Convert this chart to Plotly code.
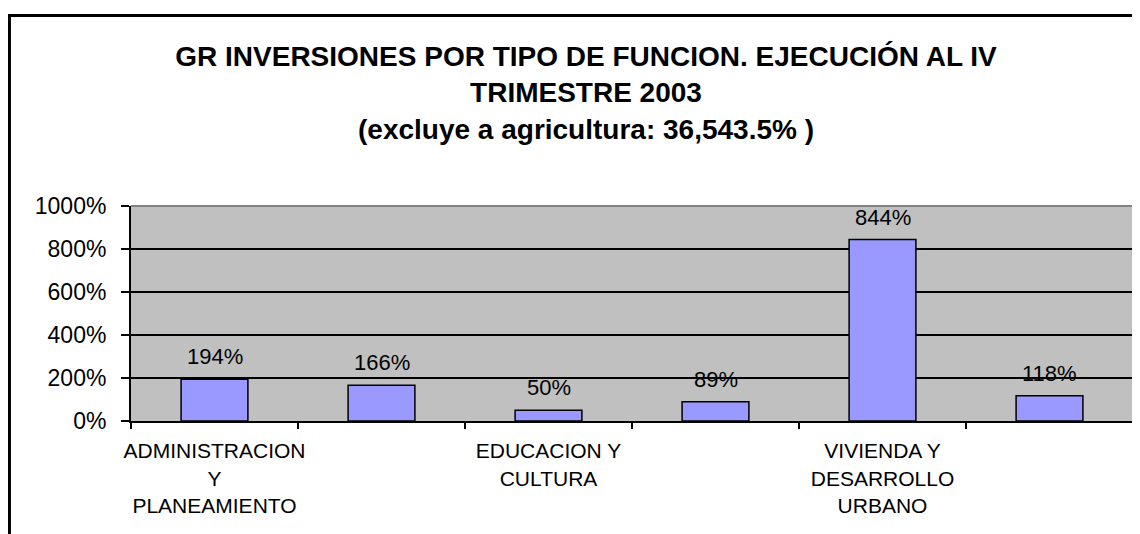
import plotly.graph_objects as go

# data
CATEGORY_IDS = ["c1", "c2", "c3", "c4", "c5", "c6"]
TICK_LABELS = ["ADMINISTRACION<br>Y<br>PLANEAMIENTO", "",
               "EDUCACION Y<br>CULTURA", "",
               "VIVIENDA Y<br>DESARROLLO<br>URBANO", ""]
EXECUTION_PCT = [194, 166, 50, 89, 844, 118]
Y_TICKS = [0, 200, 400, 600, 800, 1000]

TITLE = ("GR INVERSIONES POR TIPO DE FUNCION. EJECUCIÓN AL IV<br>"
         "TRIMESTRE 2003<br>(excluye a agricultura: 36,543.5% )")

FONT = "Liberation Sans, Arial, sans-serif"

# page body has an 8px margin, so the figure is 8px smaller than the window
W, H = 1132, 526

fig = go.Figure()
fig.add_trace(go.Bar(
    x=CATEGORY_IDS,
    y=EXECUTION_PCT,
    width=0.4,
    marker=dict(color="#9999FF", line=dict(color="black", width=1.5)),
    hoverinfo="skip",
))

# value labels above the bars
for cat, val in zip(CATEGORY_IDS, EXECUTION_PCT):
    fig.add_annotation(
        x=cat, y=val, text=f"{val}%", showarrow=False,
        yanchor="bottom", yshift=8,
        font=dict(family=FONT, size=22, color="black"))

# gray top/right border of the plot area
fig.add_shape(type="line", xref="paper", yref="paper", x0=0, x1=1, y0=1, y1=1,
              line=dict(color="#808080", width=2), layer="above")
fig.add_shape(type="line", xref="paper", yref="paper", x0=1, x1=1, y0=0, y1=1,
              line=dict(color="#808080", width=2), layer="above")
# outer chart frame (only top and left edges fall inside the window)
fig.add_shape(type="rect", xref="paper", yref="paper",
              x0=-0.1213, x1=1.2, y0=-1.0, y1=1.886,
              line=dict(color="black", width=3), layer="above")

fig.update_layout(
    width=W, height=H,
    margin=dict(l=123, r=7, t=198, b=113, autoexpand=False),
    paper_bgcolor="white",
    plot_bgcolor="#C0C0C0",
    showlegend=False,
    font=dict(family=FONT, color="black"),
    title=dict(
        text=TITLE,
        x=578 / W, xanchor="center",
        y=1 - 58 / H, yanchor="top", yref="container",
        font=dict(family=FONT, size=28, color="black", weight="bold"),
        automargin=False,
    ),
    bargap=0.6,
)
fig.update_xaxes(
    type="category",
    tickmode="array", tickvals=CATEGORY_IDS, ticktext=TICK_LABELS,
    tickson="boundaries", tickangle=0, automargin=False,
    ticks="outside", ticklen=6, tickwidth=2, tickcolor="black",
    ticklabelstandoff=10,
    showline=True, linecolor="black", linewidth=2,
    showgrid=False,
    tickfont=dict(family=FONT, size=21, color="black"),
)
fig.update_yaxes(
    range=[0, 1000], automargin=False,
    tickmode="array", tickvals=Y_TICKS, ticktext=[f"{v}%" for v in Y_TICKS],
    ticks="outside", ticklen=8, tickwidth=2, tickcolor="black",
    ticklabelstandoff=10,
    showline=True, linecolor="black", linewidth=2,
    showgrid=True, gridcolor="black", gridwidth=2,
    zeroline=False,
    tickfont=dict(family=FONT, size=23, color="black"),
)

fig.write_html("out.html")
